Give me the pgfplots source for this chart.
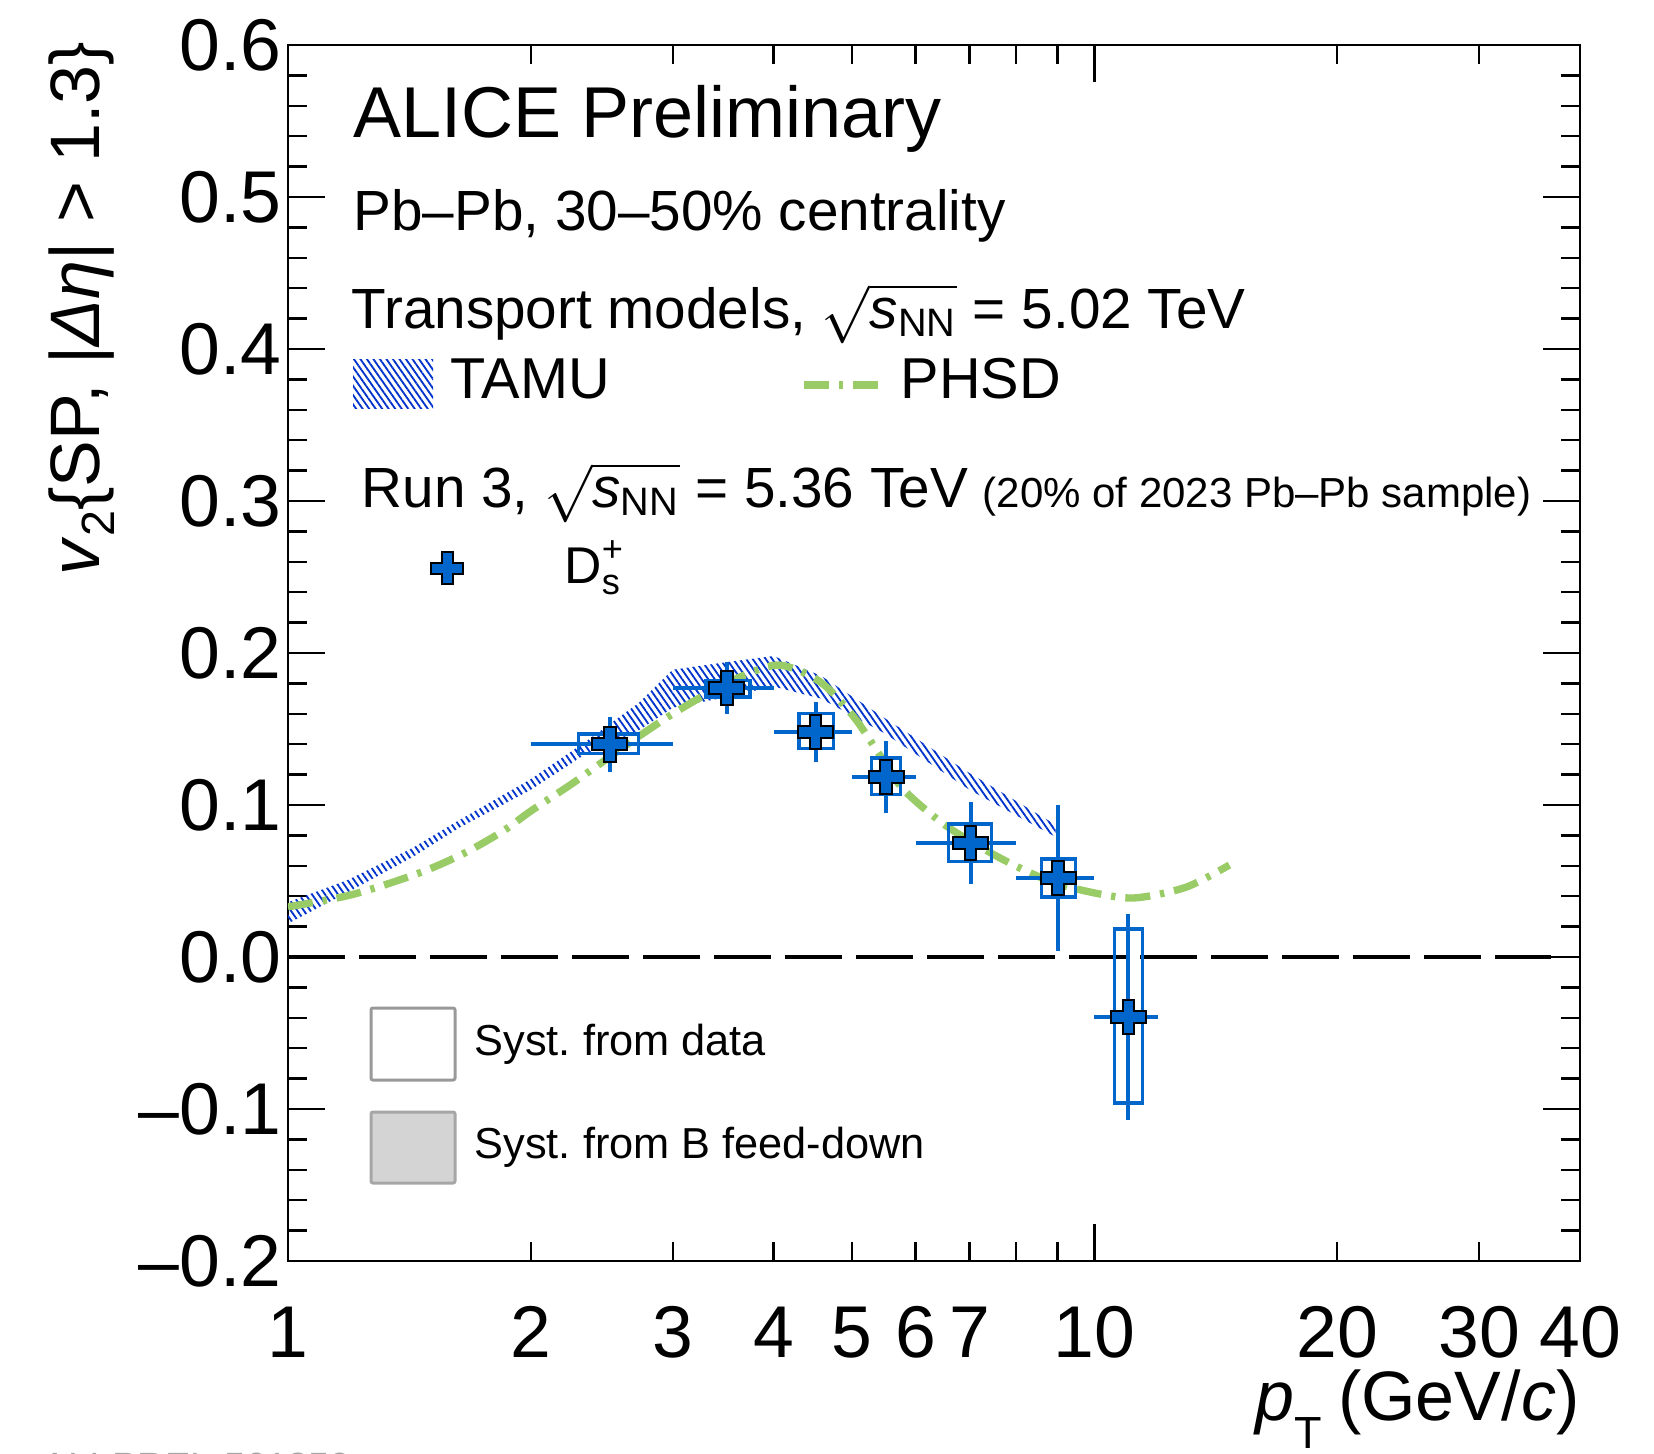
\documentclass[border=0pt]{standalone}
\usepackage{amsmath}
\usepackage{fontspec}
\setmainfont{Liberation Sans}
\usepackage{pgfplots}
\pgfplotsset{compat=1.18}
\usepackage{pgfplotstable}
\usetikzlibrary{patterns.meta}
\definecolor{dsblue}{RGB}{0,102,204}
\definecolor{tamublue}{RGB}{0,51,204}
\definecolor{phsdgreen}{RGB}{153,204,102}
\newcommand\fs[1]{\fontsize{#1}{#1}\selectfont}
\frenchspacing

\pgfdeclareplotmark{fatplus}{%
  \pgfpathmoveto{\pgfqpoint{-0.34\pgfplotmarksize}{\pgfplotmarksize}}%
  \pgfpathlineto{\pgfqpoint{0.34\pgfplotmarksize}{\pgfplotmarksize}}%
  \pgfpathlineto{\pgfqpoint{0.34\pgfplotmarksize}{0.34\pgfplotmarksize}}%
  \pgfpathlineto{\pgfqpoint{\pgfplotmarksize}{0.34\pgfplotmarksize}}%
  \pgfpathlineto{\pgfqpoint{\pgfplotmarksize}{-0.34\pgfplotmarksize}}%
  \pgfpathlineto{\pgfqpoint{0.34\pgfplotmarksize}{-0.34\pgfplotmarksize}}%
  \pgfpathlineto{\pgfqpoint{0.34\pgfplotmarksize}{-\pgfplotmarksize}}%
  \pgfpathlineto{\pgfqpoint{-0.34\pgfplotmarksize}{-\pgfplotmarksize}}%
  \pgfpathlineto{\pgfqpoint{-0.34\pgfplotmarksize}{-0.34\pgfplotmarksize}}%
  \pgfpathlineto{\pgfqpoint{-\pgfplotmarksize}{-0.34\pgfplotmarksize}}%
  \pgfpathlineto{\pgfqpoint{-\pgfplotmarksize}{0.34\pgfplotmarksize}}%
  \pgfpathlineto{\pgfqpoint{-0.34\pgfplotmarksize}{0.34\pgfplotmarksize}}%
  \pgfpathclose
  \pgfusepathqfillstroke
}

% D_s+ v2 points: x, y, x error minus/plus (bin edges), stat error
\pgfplotstableread{
x      y        exm    exp    ey
2.506  0.140    0.506  0.494  0.018
3.50   0.177    0.50   0.50   0.017
4.51   0.148    0.51   0.49   0.020
5.52   0.1185   0.52   0.48   0.0237
7.02   0.075    1.02   0.98   0.027
9.02   0.052    1.02   0.98   0.048
11.02  -0.0395  1.02   0.98   0.068
}\dsdata

\begin{document}
\begin{tikzpicture}
\begin{axis}[
  at={(0pt,0pt)}, anchor=south west,
  scale only axis, width=387.6pt, height=364.8pt,
  xmode=log, xmin=1, xmax=40, ymin=-0.2, ymax=0.6,
  axis line style={line width=0.7pt},
  tick style={black, line width=0.7pt},
  tick align=inside,
  major tick length=11.2pt, minor tick length=5.8pt,
  xtick={1,10}, xticklabels={1,10},
  extra x ticks={2,3,4,5,6,7,20,30,40},
  extra x tick labels={2,3,4,5,6,7,20,30,40},
  extra x tick style={major tick length=5.8pt},
  minor xtick={8,9},
  ytick={-0.2,-0.1,0,0.1,0.2,0.3,0.4,0.5,0.6},
  yticklabels={\textendash0.2,\textendash0.1,0.0,0.1,0.2,0.3,0.4,0.5,0.6},
  minor y tick num=4,
  tick label style={font=\fs{22}},
  xticklabel style={inner sep=0pt, anchor=north, yshift=-13.5pt},
  yticklabel style={inner sep=0pt, anchor=east, xshift=-1.8pt},
  /pgf/number format/assume math mode=true,
]
% TAMU band
\addplot[draw=none, pattern={Lines[angle=-55,distance=1.6pt,line width=0.55pt]}, pattern color=tamublue]
  coordinates {(1,0.036) (1.19,0.051) (1.43,0.072) (1.63,0.090) (2.0,0.117) (2.33,0.141) (2.72,0.167) (3.0,0.189) (3.5,0.194) (4.0,0.198) (4.58,0.185) (5.5,0.157) (7.0,0.121) (8.95,0.087)
               (8.95,0.079) (7.0,0.110) (5.5,0.147) (4.58,0.170) (4.0,0.178) (3.5,0.171) (3.0,0.164) (2.72,0.149) (2.33,0.133) (2.0,0.110) (1.63,0.085) (1.43,0.066) (1.19,0.043) (1.0,0.022)} --cycle;
% PHSD
\addplot[phsdgreen, line width=2.2pt, dash pattern=on 7.5pt off 3pt on 1.3pt off 3pt, smooth]
  coordinates {(1.0,0.033) (1.2,0.041) (1.45,0.055) (1.65,0.068) (1.85,0.083) (2.0,0.096) (2.25,0.114) (2.45,0.128) (2.72,0.145) (3.0,0.160) (3.33,0.174) (3.7,0.186) (4.08,0.192) (4.57,0.181) (5.03,0.158) (5.43,0.132) (5.80,0.110) (6.58,0.0855) (7.71,0.064) (8.9,0.049) (10.26,0.041) (11.3,0.039) (13.0,0.046) (14.7,0.0605)};
% zero line
\addplot[black, line width=1pt, dash pattern=on 17pt off 4.3pt] coordinates {(1,0) (36.8,0)};
% systematic boxes
\addplot[dsblue, line width=1pt] coordinates {(2.29,0.134) (2.72,0.134) (2.72,0.1467) (2.29,0.1467)} --cycle;
\addplot[dsblue, line width=1pt] coordinates {(3.30,0.171) (3.74,0.171) (3.74,0.182) (3.30,0.182)} --cycle;
\addplot[dsblue, line width=1pt] coordinates {(4.30,0.137) (4.75,0.137) (4.75,0.160) (4.30,0.160)} --cycle;
\addplot[dsblue, line width=1pt] coordinates {(5.29,0.107) (5.75,0.107) (5.75,0.131) (5.29,0.131)} --cycle;
\addplot[dsblue, line width=1pt] coordinates {(6.59,0.063) (7.45,0.063) (7.45,0.0875) (6.59,0.0875)} --cycle;
\addplot[dsblue, line width=1pt] coordinates {(8.60,0.0395) (9.47,0.0395) (9.47,0.0645) (8.60,0.0645)} --cycle;
\addplot[dsblue, line width=1pt] coordinates {(10.59,-0.096) (11.47,-0.096) (11.47,0.0184) (10.59,0.0184)} --cycle;
% error bars
\addplot[only marks, mark=none, dsblue,
  error bars/.cd, x dir=both, x explicit, y dir=both, y explicit,
  error mark=none, error bar style={line width=1.2pt, dsblue}]
  table[x=x, y=y, x error minus=exm, x error plus=exp, y error=ey] {\dsdata};
% markers
\addplot[only marks, mark=fatplus, mark size=5.2pt,
  mark options={fill=dsblue, draw=black, line width=0.6pt}]
  table[x=x, y=y] {\dsdata};
\end{axis}
\pgfresetboundingbox
\begin{scope}[shift={(-86.4pt,378.3pt)}, x=0.3pt, y=-0.3pt]
\useasboundingbox (0,0) rectangle (1654,1453);
\node[anchor=base west, inner sep=0] at (353,137) {\fs{21.6}ALICE Preliminary};
\node[anchor=base west, inner sep=0] at (353,230) {\fs{17}Pb\textendash Pb, 30\textendash 50\% centrality};
\node[anchor=base west, inner sep=0] at (351,328) {\fs{17}Transport models, $\sqrt{\textit{s}_{\text{NN}}}$ = 5.02 TeV};
\path[pattern={Lines[angle=-55,distance=1.6pt,line width=0.55pt]}, pattern color=tamublue] (353,359) rectangle (433,408);
\node[anchor=base west, inner sep=0] at (450,398) {\fs{17.3}TAMU};
\draw[phsdgreen, line width=2.2pt, dash pattern=on 7.5pt off 3pt on 1.3pt off 3pt] (804,385) -- (882,385);
\node[anchor=base west, inner sep=0] at (900,398) {\fs{17.3}PHSD};
\node[anchor=base west, inner sep=0] at (361,507) {\fs{17}Run 3, $\sqrt{\textit{s}_{\text{NN}}}$ = 5.36 TeV};
\node[anchor=base west, inner sep=0] at (982,507) {\fs{12.6}(20\% of 2023 Pb\textendash Pb sample)};
\draw[fill=dsblue, line width=0.6pt] (441.5,552) -- (452.5,552) -- (452.5,562.5) -- (463,562.5) -- (463,573.5) -- (452.5,573.5) -- (452.5,584) -- (441.5,584) -- (441.5,573.5) -- (431,573.5) -- (431,562.5) -- (441.5,562.5) -- cycle;
\node[anchor=base west, inner sep=0] at (564,583) {\fs{15.5}$\text{D}_{\text{s}}^{\text{+}}$};
\draw[black!40, line width=0.9pt, rounded corners=0.6pt] (371,1008) rectangle (455,1080);
\node[anchor=base west, inner sep=0] at (474,1055) {\fs{13}Syst. from data};
\draw[black!35, fill=black!17, line width=0.9pt, rounded corners=0.6pt] (371,1112) rectangle (455,1183);
\node[anchor=base west, inner sep=0] at (474,1158) {\fs{13}Syst. from B feed-down};
\node[anchor=base east, inner sep=0] at (1580,1420) {\fs{21}\textit{p}\raisebox{-8.4pt}{\fs{13.5}T}\hspace{5pt}(GeV/\textit{c})};
\node[rotate=90, anchor=base east, inner sep=0] at (100,41) {\fs{21}\textit{v}\raisebox{-4.5pt}{\fs{14}2}\{SP, |\textit{Δη}| > 1.3\}};
\node[anchor=base west, inner sep=0, text=black!35] at (42,1479) {\fs{11.4}ALI-PREL-561250};
\end{scope}
\end{tikzpicture}
\end{document}
